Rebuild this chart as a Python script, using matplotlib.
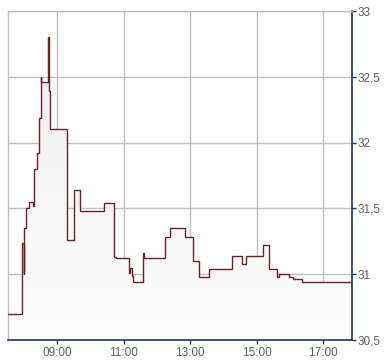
import matplotlib
matplotlib.use("Agg")
import matplotlib.pyplot as plt
import numpy as np
from matplotlib.patches import Polygon
from matplotlib.ticker import FuncFormatter

times = ["07:31", "07:57", "07:59", "08:00", "08:03", "08:09", "08:17", "08:18",
         "08:24", "08:27", "08:30", "08:31", "08:43", "08:45", "08:46", "09:18",
         "09:30", "09:41", "10:24", "10:42", "10:46", "11:09", "11:10", "11:11",
         "11:15", "11:17", "11:35", "11:36", "12:15", "12:23", "12:50", "13:05",
         "13:15", "13:34", "14:15", "14:34", "14:41", "15:12", "15:23", "15:36",
         "15:41", "15:58", "16:06", "16:22", "17:52"]
prices = [30.70, 31.235, 31.00, 31.35, 31.50, 31.55, 31.52, 31.80,
          31.92, 32.19, 32.50, 32.46, 32.80, 32.39, 32.10, 31.26,
          31.64, 31.48, 31.54, 31.13, 31.12, 31.06, 31.01, 31.05,
          30.99, 30.94, 31.16, 31.12, 31.28, 31.35, 31.28, 31.10,
          30.98, 31.04, 31.14, 31.08, 31.14, 31.22, 31.04, 30.98,
          31.00, 30.98, 30.96, 30.94, 30.94]
x_ticks = ["09:00", "11:00", "13:00", "15:00", "17:00"]
y_ticks = [30.5, 31.0, 31.5, 32.0, 32.5, 33.0]
x_range = ["07:31", "17:52"]


def hours(s):
    h, m = s.split(":")
    return int(h) + int(m) / 60.0


x = np.array([hours(t) for t in times])
y = np.array(prices)
x0, x1 = hours(x_range[0]), hours(x_range[1])
ymin, ymax = y_ticks[0], y_ticks[-1]

fig = plt.figure(figsize=(3.9, 3.64), dpi=100)
ax = fig.add_axes([8 / 390, 24 / 364, 344 / 390, 329 / 364])
ax.set_xlim(x0, x1)
ax.set_ylim(ymin, ymax)

# step path
sx = np.repeat(x, 2)[1:]
sy = np.repeat(y, 2)[:-1]
sx = np.append(sx, x1)
sy = np.append(sy, y[-1])

# gradient fill
poly_pts = np.column_stack([np.concatenate([[sx[0]], sx, [sx[-1]]]),
                            np.concatenate([[ymin], sy, [ymin]])])
poly = Polygon(poly_pts, closed=True, facecolor="none", edgecolor="none")
ax.add_patch(poly)
grad = np.linspace(0, 1, 256).reshape(-1, 1)
top = np.array([0.93, 0.93, 0.93])
bot = np.array([0.995, 0.995, 0.995])
img = bot + (top - bot) * grad
img = np.repeat(img[:, None, :], 2, axis=1)
im = ax.imshow(img, extent=[x0, x1, ymin, ymax], origin="lower",
               aspect="auto", zorder=1, interpolation="bilinear")
im.set_clip_path(poly)

ax.plot(sx, sy, color="#6b2126", lw=1.0, zorder=3, solid_joinstyle="miter")

# grid
ax.set_xticks([hours(t) for t in x_ticks])
ax.set_xticklabels(x_ticks)
ax.set_yticks(y_ticks)
ax.yaxis.set_major_formatter(FuncFormatter(
    lambda v, p: (("%g" % v).replace(".", ","))))
ax.grid(True, color="#c0c0c0", lw=1.0, zorder=0)
ax.set_axisbelow(True)

ax.yaxis.tick_right()
for s in ["left", "top"]:
    ax.spines[s].set_color("#c0c0c0")
    ax.spines[s].set_linewidth(1.0)
for s in ["right", "bottom"]:
    ax.spines[s].set_color("#1c3560")
    ax.spines[s].set_linewidth(1.2)

ax.tick_params(axis="both", colors="#1c3560", labelcolor="#606060",
               labelsize=8.5, length=3, width=1, pad=1)
ax.tick_params(axis="x", pad=2)
for lab in ax.get_xticklabels() + ax.get_yticklabels():
    lab.set_family(["Liberation Sans", "DejaVu Sans"])

fig.savefig("out.png", dpi=100)
